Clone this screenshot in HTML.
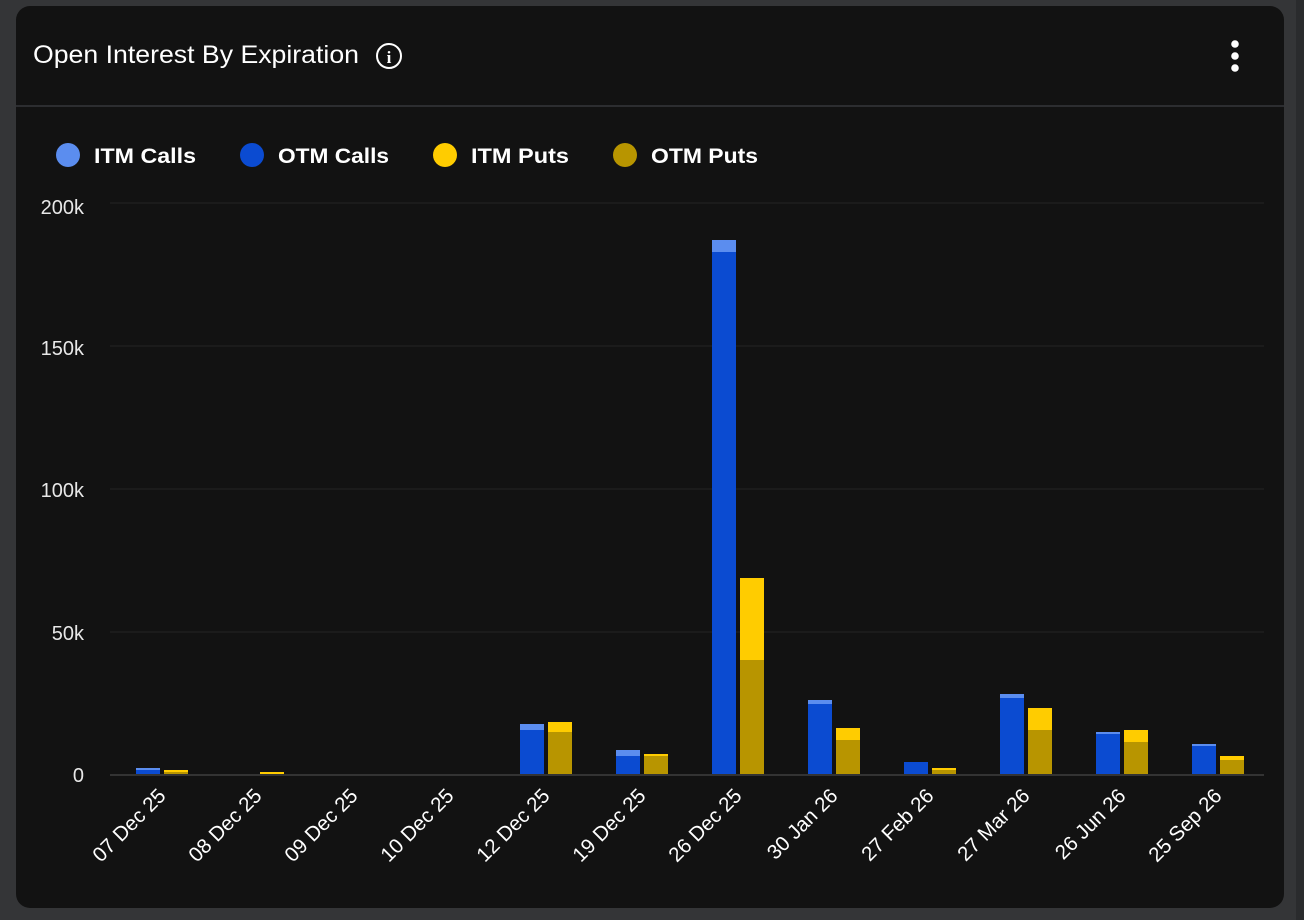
<!DOCTYPE html>
<html><head><meta charset="utf-8"><style>
html,body{margin:0;padding:0;background:#343537;width:1304px;height:920px;overflow:hidden}
svg{display:block;font-family:"Liberation Sans",sans-serif}
</style></head><body>
<svg width="1304" height="920" xmlns="http://www.w3.org/2000/svg">
<rect x="0" y="0" width="1304" height="920" fill="#343537"/>
<rect x="16" y="6" width="1268" height="902" rx="14" fill="#121212"/>
<rect x="1296" y="0" width="8" height="920" fill="#2a2b2d"/>
<text x="33" y="63" fill="#fff" font-size="25" textLength="326" lengthAdjust="spacingAndGlyphs">Open Interest By Expiration</text>
<circle cx="389" cy="56" r="12" fill="none" stroke="#fff" stroke-width="2"/>
<text x="389" y="63" fill="#fff" font-size="17" font-weight="bold" text-anchor="middle" font-family="Liberation Serif,serif">i</text>
<circle cx="1235" cy="44" r="3.8" fill="#fff"/><circle cx="1235" cy="56" r="3.8" fill="#fff"/><circle cx="1235" cy="68" r="3.8" fill="#fff"/>
<rect x="16" y="105" width="1268" height="2" fill="#2c2d30"/>
<g font-size="21" font-weight="bold" fill="#fff">
<circle cx="68" cy="155" r="12" fill="#5b8def"/><text x="94" y="163" textLength="102" lengthAdjust="spacingAndGlyphs">ITM Calls</text>
<circle cx="252" cy="155" r="12" fill="#0b4bd1"/><text x="278" y="163" textLength="111" lengthAdjust="spacingAndGlyphs">OTM Calls</text>
<circle cx="445" cy="155" r="12" fill="#ffcc00"/><text x="471" y="163" textLength="98" lengthAdjust="spacingAndGlyphs">ITM Puts</text>
<circle cx="625" cy="155" r="12" fill="#b89500"/><text x="651" y="163" textLength="107" lengthAdjust="spacingAndGlyphs">OTM Puts</text>
</g>
<g stroke="#242424" stroke-width="1">
<line x1="110" y1="203" x2="1264" y2="203"/><line x1="110" y1="346" x2="1264" y2="346"/>
<line x1="110" y1="489" x2="1264" y2="489"/><line x1="110" y1="632" x2="1264" y2="632"/>
</g>
<g font-size="20" fill="#e8e8e8" text-anchor="end">
<text x="84" y="214">200k</text><text x="84" y="355">150k</text><text x="84" y="497">100k</text><text x="84" y="640">50k</text><text x="84" y="782">0</text>
</g>
<g id="bars"></g>
<rect x="110" y="774" width="1154" height="2" fill="#333"/>
<g id="labels" font-size="20.5" fill="#fff" text-anchor="end"></g>
<script>
var d=[["07 Dec 25",768,770,770,772],["08 Dec 25",775,775,772,774],["09 Dec 25",775,775,775,775],["10 Dec 25",775,775,775,775],["12 Dec 25",724,730,722,732],["19 Dec 25",750,756,754,756],["26 Dec 25",240,252,578,660],["30 Jan 26",700,704,728,740],["27 Feb 26",762,762,768,770],["27 Mar 26",694,698,708,730],["26 Jun 26",732,734,730,742],["25 Sep 26",744,746,756,760]];
var ns="http://www.w3.org/2000/svg",b=document.getElementById("bars"),l=document.getElementById("labels");
function r(x,y,h,c){if(h<=0)return;var e=document.createElementNS(ns,"rect");e.setAttribute("x",x);e.setAttribute("y",y);e.setAttribute("width",24);e.setAttribute("height",h);e.setAttribute("fill",c);b.appendChild(e);}
d.forEach(function(v,i){var c=162+96*i;
r(c-26,v[1],v[2]-v[1],"#5b8def");r(c-26,v[2],775-v[2],"#0b4bd1");
r(c+2,v[3],v[4]-v[3],"#ffcc00");r(c+2,v[4],775-v[4],"#b89500");
var t=document.createElementNS(ns,"text");t.setAttribute("transform","translate("+(c+5)+",797) rotate(-45)");t.textContent=v[0];l.appendChild(t);});
</script>
</svg>
</body></html>
